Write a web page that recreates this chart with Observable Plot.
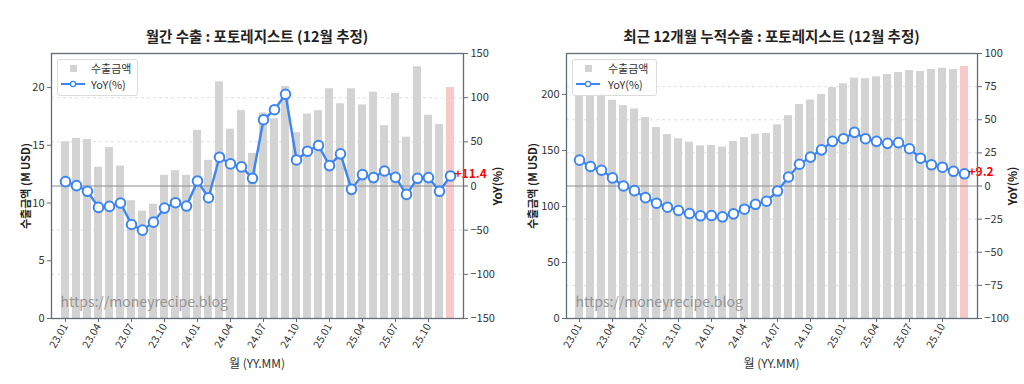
<!DOCTYPE html>
<html>
<head>
<meta charset="utf-8">
<script src="https://cdn.jsdelivr.net/npm/d3@7"></script>
<script src="https://cdn.jsdelivr.net/npm/@observablehq/plot@0.6"></script>
<style>
  body { margin: 0; background: #fff; }
  #root { position: relative; width: 1024px; height: 384px; background: #fff; font-family: "Noto Sans CJK KR", "Noto Sans", sans-serif; color: #222; overflow: hidden; }
  .layer { position: absolute; top: 0; }
  .lbl { position: absolute; white-space: nowrap; transform: translate(-50%, -50%); }
  .rot { transform: translate(-50%, -50%) rotate(-90deg); }
  .legend { position: absolute; border: 1px solid #dcdcdc; border-radius: 3px; background: rgba(255,255,255,0.85); box-sizing: border-box; }
</style>
</head>
<body>
<div id="root"></div>
<script>
// ---------- data ----------
const months = ["23.01","23.02","23.03","23.04","23.05","23.06","23.07","23.08","23.09","23.10","23.11","23.12",
                "24.01","24.02","24.03","24.04","24.05","24.06","24.07","24.08","24.09","24.10","24.11","24.12",
                "25.01","25.02","25.03","25.04","25.05","25.06","25.07","25.08","25.09","25.10","25.11","25.12"];
const xTickLabels = ["23.01","23.04","23.07","23.10","24.01","24.04","24.07","24.10","25.01","25.04","25.07","25.10"];

const monthlyExport = [15.3,15.6,15.5,13.1,14.8,13.2,10.2,9.3,9.9,12.4,12.8,12.4,
                       16.3,13.7,20.5,16.4,18.0,14.3,17.8,17.3,20.1,16.1,17.7,18.0,
                       19.9,18.6,19.9,18.5,19.6,16.7,19.5,15.7,21.8,17.6,16.8,20.0];
const monthlyYoY = [4.9,0.4,-6.0,-24.2,-23.1,-19.3,-43.6,-50.0,-40.9,-25.0,-18.9,-22.7,
                    5.7,-13.3,32.6,25.0,21.6,8.7,75.0,86.4,103.8,29.5,39.4,45.8,
                    23.1,36.4,-3.8,12.9,9.5,17.0,9.8,-9.5,8.7,9.5,-6.0,11.4];

const rollingExport = [198.6,199.3,200.0,194.7,190.0,187.0,179.3,170.4,164.2,160.4,157.4,154.1,
                       154.4,153.0,158.0,161.5,164.5,165.1,172.8,181.0,191.0,195.0,200.0,206.0,
                       209.5,214.5,214.0,215.7,217.8,219.5,221.3,220.4,222.2,223.4,222.2,224.9];
const rollingYoY = [19.5,14.7,11.9,6.1,0.0,-3.5,-8.8,-13.0,-16.0,-18.5,-20.8,-22.5,
                    -22.3,-23.3,-21.0,-17.5,-13.8,-11.5,-3.8,6.8,16.4,21.8,27.3,33.7,
                    35.7,40.5,35.7,33.7,32.2,32.7,28.1,21.0,16.0,14.2,11.1,9.2];

const leftTicksMonthly = [0,5,10,15,20];
const rightTicksMonthly = [-150,-100,-50,0,50,100,150];
const leftTicksRolling = [0,50,100,150,200];
const rightTicksRolling = [-100,-75,-50,-25,0,25,50,75,100];

const titles = ["월간 수출 : 포토레지스트 (12월 추정)", "최근 12개월 누적수출 : 포토레지스트 (12월 추정)"];
const yLabel = "수출금액 (M USD)";
const y2Label = "YoY(%)";
const xLabel = "월 (YY.MM)";
const legendLabels = ["수출금액", "YoY(%)"];
const watermark = "https://moneyrecipe.blog";

// ---------- style ----------
const BAR = "#d3d3d3", BAR_LAST = "#f7c9c9", LINE = "#3d85f3", SPINE = "#646c78";
const FONT = "'Noto Sans CJK KR', 'Noto Sans', sans-serif";
const root = document.getElementById("root");

function makePanel(cfg) {
  const rows = months.map((m, i) => ({month: m, value: cfg.bars[i], yoy: cfg.yoy[i], last: i === months.length - 1}));
  const common = {
    width: 512, height: 384,
    marginLeft: cfg.ml, marginRight: cfg.mr, marginTop: 53, marginBottom: 66,
    style: {background: "transparent", fontFamily: FONT, fontSize: "11px", color: "#333", overflow: "visible"}
  };
  const xBand = {type: "band", domain: months, paddingInner: 0.3, paddingOuter: 0.73};
  // layer 1: dashed grid (YoY scale)
  const g = Plot.plot({...common,
    x: {...xBand, axis: null},
    y: {domain: cfg.rDomain, axis: null},
    marks: [Plot.gridY(cfg.rTicks.filter(d => d !== 0), {stroke: "#d8d8d8", strokeOpacity: 1, strokeDasharray: "3,3", strokeWidth: 0.8})]
  });
  // layer 2: bars + left & bottom axes
  const b = Plot.plot({...common,
    x: xBand,
    y: {domain: cfg.yDomain},
    marks: [
      Plot.barY(rows, {x: "month", y: "value", fill: d => d.last ? BAR_LAST : BAR, inset: 0}),
      Plot.axisY({ticks: cfg.yTicks, tickSize: 4, tickPadding: 3, label: null, stroke: SPINE}),
      Plot.axisX({ticks: xTickLabels, tickSize: 4, tickPadding: 2, tickRotate: -60, label: null, fontSize: 10.5, stroke: SPINE}),
      Plot.text([watermark], {frameAnchor: "bottom-left", dx: 9, dy: -16, lineAnchor: "middle", textAnchor: "start", fill: "#8a8a8a", fillOpacity: 0.9, fontSize: 14})
    ]
  });
  // layer 3: YoY line, zero line, right axis, frame
  const l = Plot.plot({...common,
    x: {...xBand, axis: null},
    y: {domain: cfg.rDomain},
    marks: [
      Plot.ruleY([0], {stroke: "#8c8c8c", strokeWidth: 1}),
      Plot.line(rows, {x: "month", y: "yoy", stroke: LINE, strokeWidth: 2.4}),
      Plot.dot(rows, {x: "month", y: "yoy", r: 4.8, fill: "white", stroke: LINE, strokeWidth: 2}),
      Plot.text(rows.filter(d => d.last), {x: "month", y: "yoy", text: d => (d.yoy >= 0 ? "+" : "") + d.yoy.toFixed(1), dx: 4, dy: -2, textAnchor: "start", fill: "#ff0000", fontWeight: "bold", fontSize: 12}),
      Plot.axisY({anchor: "right", ticks: cfg.rTicks, tickSize: 4, tickPadding: 3, label: null, stroke: SPINE}),
      Plot.frame({stroke: SPINE, strokeWidth: 1.3})
    ]
  });
  for (const svg of [g, b, l]) {
    const wrap = document.createElement("div");
    wrap.className = "layer";
    wrap.style.left = cfg.left + "px";
    wrap.appendChild(svg);
    root.appendChild(wrap);
  }
  const cx = cfg.left + cfg.ml + (512 - cfg.ml - cfg.mr) / 2;
  const add = (text, x, y, css, cls = "lbl") => {
    const d = document.createElement("div");
    d.className = cls; d.textContent = text;
    d.style.left = x + "px"; d.style.top = y + "px";
    Object.assign(d.style, css);
    root.appendChild(d);
  };
  add(cfg.title, cx, 35, {fontWeight: "bold", fontSize: "14.5px", color: "#222"});
  add(yLabel, cfg.left + cfg.yLabelX, 186, {fontWeight: "bold", fontSize: "11px", color: "#222"}, "lbl rot");
  add(y2Label, cfg.left + cfg.y2LabelX, 186, {fontWeight: "bold", fontSize: "11.5px", color: "#222"}, "lbl rot");
  add(xLabel, cx, 362, {fontSize: "12px", color: "#333"});
  // legend
  const lg = document.createElement("div");
  lg.className = "legend";
  lg.style.left = (cfg.left + cfg.ml + 6) + "px"; lg.style.top = "59px";
  lg.style.width = cfg.legW + "px"; lg.style.height = "37px";
  lg.innerHTML = `<svg width="${cfg.legW}" height="36" style="display:block;font-family:${FONT};font-size:11px">
    <rect x="12" y="5" width="7" height="7" fill="${BAR}"></rect>
    <text x="${cfg.legTx}" y="12.5" fill="#333">${legendLabels[0]}</text>
    <line x1="3" x2="27" y1="24" y2="24" stroke="${LINE}" stroke-width="2"></line>
    <circle cx="15" cy="24" r="2.6" fill="white" stroke="${LINE}" stroke-width="1.3"></circle>
    <text x="${cfg.legTx}" y="28.5" fill="#333">${legendLabels[1]}</text></svg>`;
  root.appendChild(lg);
}

makePanel({left: 0, ml: 51, mr: 49, title: titles[0], bars: monthlyExport, yoy: monthlyYoY,
  yDomain: [0, 22.95], yTicks: leftTicksMonthly, rDomain: [-150, 150], rTicks: rightTicksMonthly,
  yLabelX: 25, y2LabelX: 497, legW: 81, legTx: 33});
makePanel({left: 512, ml: 54, mr: 47, title: titles[1], bars: rollingExport, yoy: rollingYoY,
  yDomain: [0, 236.5], yTicks: leftTicksRolling, rDomain: [-100, 100], rTicks: rightTicksRolling,
  yLabelX: 20, y2LabelX: 500, legW: 85, legTx: 35});
</script>
</body>
</html>
